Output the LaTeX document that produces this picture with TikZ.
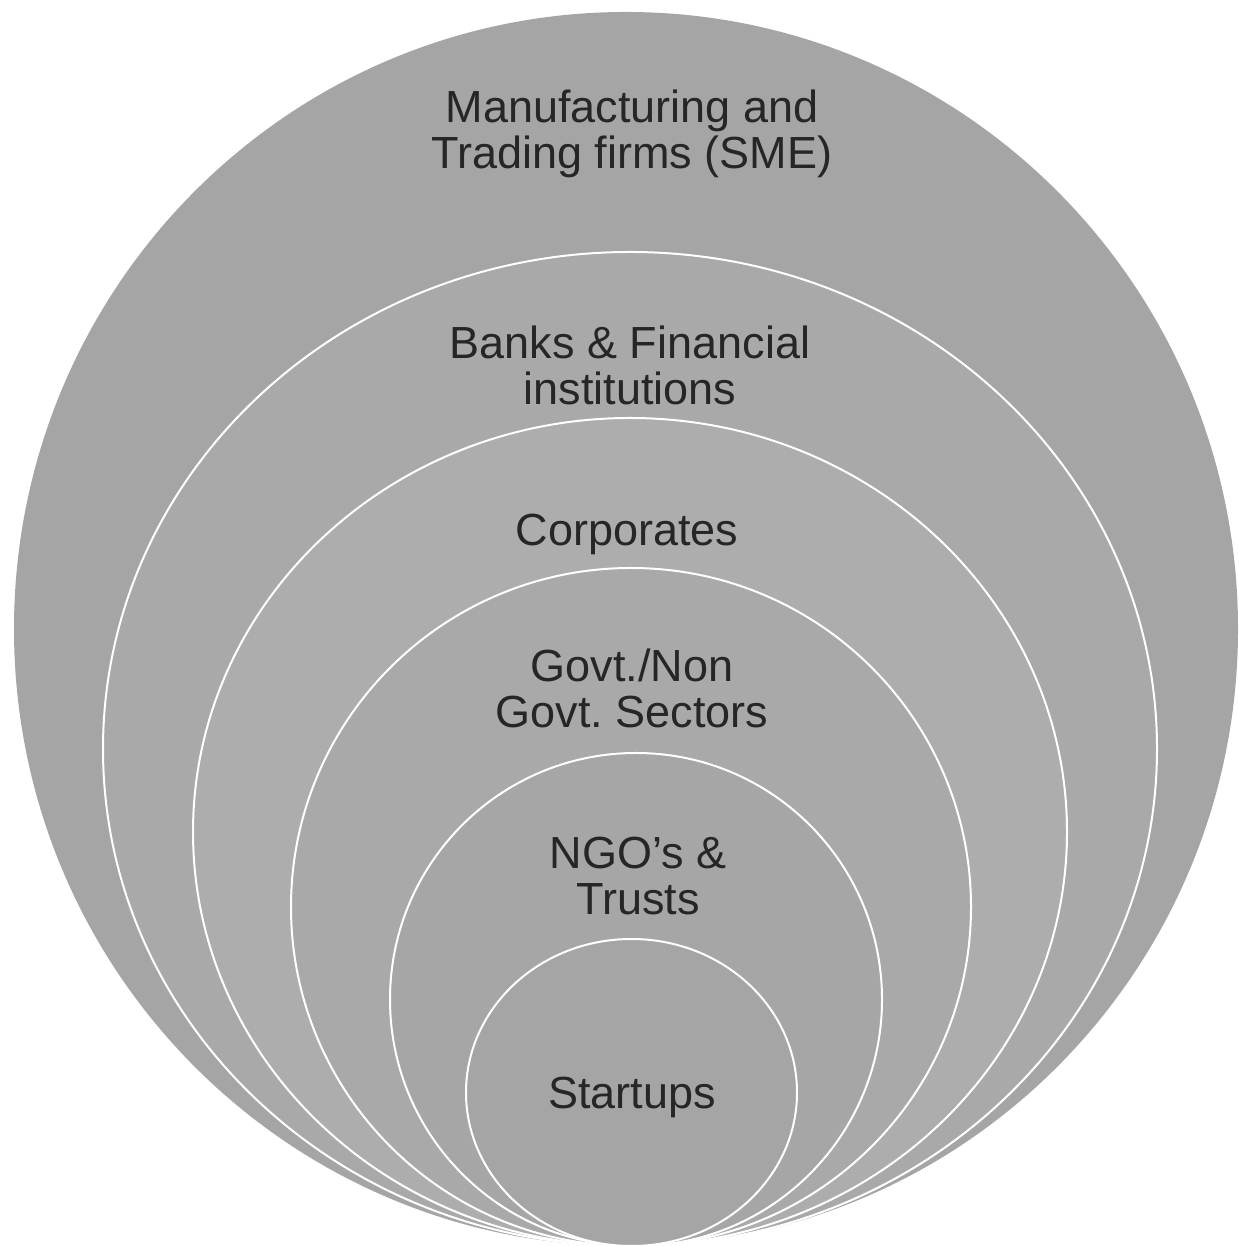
\documentclass[tikz,border=0pt]{standalone}
\usepackage{fontspec}
\setmainfont{Liberation Sans}
\usepackage{tikz}
\frenchspacing
\definecolor{ringfillA}{HTML}{A5A5A5}
\definecolor{ringfillB}{HTML}{A9A9A9}
\definecolor{ringfillC}{HTML}{ADADAD}
\definecolor{ringfillD}{HTML}{A9A9A9}
\definecolor{ringfillE}{HTML}{A6A6A6}
\definecolor{ringfillF}{HTML}{A5A5A5}
\definecolor{labeltext}{HTML}{262626}
\newcommand{\ring}[5]{ \filldraw[fill=#5, draw=white, line width=1pt] ( #1 , #2 ) ellipse ( #3 pt and #4 pt );}
\newcommand{\ringlabel}[4]{\node[align=center, text=labeltext, inner sep=0pt, font=\fontsize{22.5}{23}\selectfont] (#1) at ( #2 , #3 ) {#4};}

\begin{document}
\begin{tikzpicture}[x=1pt,y=1pt]
\useasboundingbox (0,0) rectangle (619,623);
% outer ring, no outline
\fill[ringfillA] (313,308.5) ellipse (306pt and 308.5pt);
% inner rings, all touching at the bottom
\ring{315}{248.5}{263.5}{248.5}{ringfillB}
\ring{315}{207}{218.5}{207}{ringfillC}
\ring{315.5}{169.5}{170}{169.5}{ringfillD}
\ring{318}{123.25}{123}{123.25}{ringfillE}
\ring{315.75}{76.75}{82.75}{76.75}{ringfillF}
% labels
\ringlabel{sme}{316}{556}{Manufacturing and\\Trading firms (SME)}
\ringlabel{banks}{315}{440.5}{Banks \& Financial\\institutions}
\ringlabel{corporates}{313.5}{356}{Corporates}
\ringlabel{govt}{316}{279}{Govt./Non\\Govt. Sectors}
\ringlabel{ngo}{319}{185}{NGO’s \&\\Trusts}
\ringlabel{startups}{316}{74.5}{Startups}
\end{tikzpicture}
\end{document}
